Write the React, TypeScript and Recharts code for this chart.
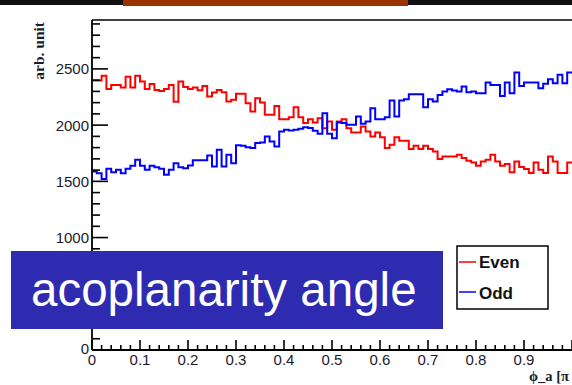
import React from "react";
import { LineChart, Line, XAxis, YAxis } from "recharts";

// bin contents, 100 bins of width 0.01 over phi_a in [0, 1]
const EVEN = [
  2396, 2396, 2440, 2322, 2357, 2357, 2334, 2431, 2334, 2440,
  2387, 2322, 2366, 2313, 2304, 2322, 2357, 2209, 2387, 2340,
  2322, 2334, 2310, 2348, 2254, 2290, 2313, 2293, 2210, 2225,
  2278, 2278, 2195, 2121, 2240, 2201, 2092, 2092, 2170, 2053,
  2053, 2071, 2160, 2071, 2018, 2053, 2024, 2062, 1973, 2032,
  1960, 2032, 2053, 1973, 1935, 1935, 1988, 1944, 1899, 1935,
  1893, 1796, 1825, 1893, 1861, 1861, 1787, 1816, 1787, 1816,
  1787, 1766, 1698, 1722, 1722, 1722, 1736, 1707, 1683, 1668,
  1639, 1677, 1692, 1736, 1677, 1639, 1654, 1580, 1677, 1627,
  1609, 1574, 1668, 1603, 1574, 1722, 1677, 1574, 1574, 1668,
];
const ODD = [
  1588, 1573, 1520, 1612, 1582, 1603, 1573, 1612, 1638, 1692,
  1638, 1603, 1638, 1626, 1612, 1558, 1603, 1662, 1626, 1617,
  1640, 1688, 1688, 1688, 1730, 1633, 1780, 1633, 1736, 1662,
  1820, 1816, 1804, 1796, 1840, 1846, 1899, 1855, 1810, 1944,
  1958, 1953, 1958, 1967, 1982, 1975, 1950, 1923, 2106, 1923,
  1884, 2024, 2018, 2003, 2003, 2077, 2012, 2032, 2151, 2053,
  2053, 2071, 2219, 2077, 2219, 2231, 2275, 2275, 2275, 2160,
  2231, 2210, 2269, 2299, 2320, 2308, 2299, 2343, 2293, 2299,
  2284, 2284, 2379, 2358, 2358, 2260, 2379, 2284, 2467, 2349,
  2379, 2379, 2379, 2328, 2367, 2408, 2373, 2447, 2373, 2467,
];
const BIN_WIDTH = 0.01;

const X_MAJOR = [0, 0.1, 0.2, 0.3, 0.4, 0.5, 0.6, 0.7, 0.8, 0.9, 1];
// 500 sits under the caption box in the original, so it gets no label
const Y_LABELLED = [0, 1000, 1500, 2000, 2500];
const Y_MAJOR = [0, 500, 1000, 1500, 2000, 2500];
const X_TICKS: number[] = [];
for (let k = 0; k <= 50; k++) X_TICKS.push(k / 50);
const Y_TICKS: number[] = [];
for (let v = 0; v <= 2900; v += 100) Y_TICKS.push(v);

const SERIES = [
  { key: "even", name: "Even", color: "#ff0000" },
  { key: "odd", name: "Odd", color: "#0000ff" },
];

const data = EVEN.map((e, i) => ({ x: i * BIN_WIDTH, even: e, odd: ODD[i] }));
// closing edge of the last bin
data.push({ x: 1, even: EVEN[EVEN.length - 1], odd: ODD[ODD.length - 1] });

const W = 572;
const H = 385;
const TICK_FONT = "'Liberation Sans', Arial, Helvetica, sans-serif";
const TITLE_FONT = "'Liberation Serif', 'Times New Roman', serif";

const YTick = (props: any) => {
  const { x, y, payload } = props;
  const v = payload.value;
  const major = Y_MAJOR.includes(v);
  return (
    <g>
      <line x1={x} y1={y} x2={x + (major ? 16 : 8)} y2={y} stroke="#000" strokeWidth={1.6} />
      {Y_LABELLED.includes(v) && (
        <text
          x={x - 3}
          y={v === 0 ? y - 2 : y}
          textAnchor="end"
          dominantBaseline="central"
          fontFamily={TICK_FONT}
          fontSize={15}
          fill="#1b1b2b"
        >
          {v}
        </text>
      )}
    </g>
  );
};

const XTick = (props: any) => {
  const { x, y, payload } = props;
  const v = payload.value;
  const major = X_MAJOR.some((m) => Math.abs(m - v) < 1e-6);
  const label = v === 0 ? "0" : v.toFixed(1);
  return (
    <g>
      <line x1={x} y1={y} x2={x} y2={y - (major ? 10 : 5)} stroke="#000" strokeWidth={1.6} />
      {major && v < 0.99 && (
        <text
          x={x}
          y={y + 15}
          textAnchor="middle"
          fontFamily={TICK_FONT}
          fontSize={15}
          fill="#1b1b2b"
        >
          {label}
        </text>
      )}
    </g>
  );
};

export default function App() {
  return (
    <div style={{ position: "absolute", left: 0, top: 0, width: W, height: H, background: "#fff" }}>
      <LineChart
        width={W}
        height={H}
        data={data}
        margin={{ top: 20, right: 0, bottom: 5, left: 52 }}
      >
        <XAxis
          dataKey="x"
          type="number"
          domain={[0, 1]}
          ticks={X_TICKS}
          interval={0}
          height={30}
          tickSize={0}
          tickMargin={0}
          tick={<XTick />}
          axisLine={{ stroke: "#000", strokeWidth: 1.8 }}
          tickLine={false}
        />
        <YAxis
          type="number"
          domain={[0, 2935]}
          ticks={Y_TICKS}
          interval={0}
          width={40}
          tickSize={0}
          tickMargin={0}
          tick={<YTick />}
          axisLine={{ stroke: "#000", strokeWidth: 1.8 }}
          tickLine={false}
          allowDataOverflow
        />
        {SERIES.map((s) => (
          <Line
            key={s.key}
            dataKey={s.key}
            name={s.name}
            type="stepAfter"
            stroke={s.color}
            strokeWidth={2}
            dot={false}
            isAnimationActive={false}
          />
        ))}
      </LineChart>
      <svg
        width={W}
        height={H}
        style={{ position: "absolute", left: 0, top: 0, pointerEvents: "none" }}
      >
        <rect x={0} y={0} width={W} height={5} fill="#111" />
        <rect x={123} y={0} width={285} height={6} fill="#993300" />
        <line x1={92} y1={20} x2={W} y2={20} stroke="#000" strokeWidth={1.6} />
        <text
          transform="translate(44,22) rotate(-90)"
          textAnchor="end"
          fontFamily={TITLE_FONT}
          fontWeight="bold"
          fontSize={15.5}
          fill="#1b1b2b"
        >
          arb. unit
        </text>
        {/* the original slide crops the axis title at the right edge */}
        <text
          x={529}
          y={381}
          fontFamily={TITLE_FONT}
          fontWeight="bold"
          fontSize={14.5}
          fill="#1b1b2b"
        >
          ϕ_a [π
        </text>
        <rect x={11} y={251} width={432} height={78} fill="#2e2bb1" />
        <text
          x={31}
          y={306}
          fontFamily={TICK_FONT}
          fontSize={47.5}
          fill="#fff"
        >
          acoplanarity angle
        </text>
        <rect x={457} y={246} width={91} height={63} fill="#fff" stroke="#000" strokeWidth={1.5} />
        {SERIES.map((s, i) => (
          <g key={s.key}>
            <line x1={459} y1={262 + i * 30} x2={476} y2={262 + i * 30} stroke={s.color} strokeWidth={1.5} />
            <text
              x={479}
              y={268 + i * 31}
              fontFamily={TICK_FONT}
              fontWeight="bold"
              fontSize={17}
              fill="#111"
            >
              {s.name}
            </text>
          </g>
        ))}
      </svg>
    </div>
  );
}
